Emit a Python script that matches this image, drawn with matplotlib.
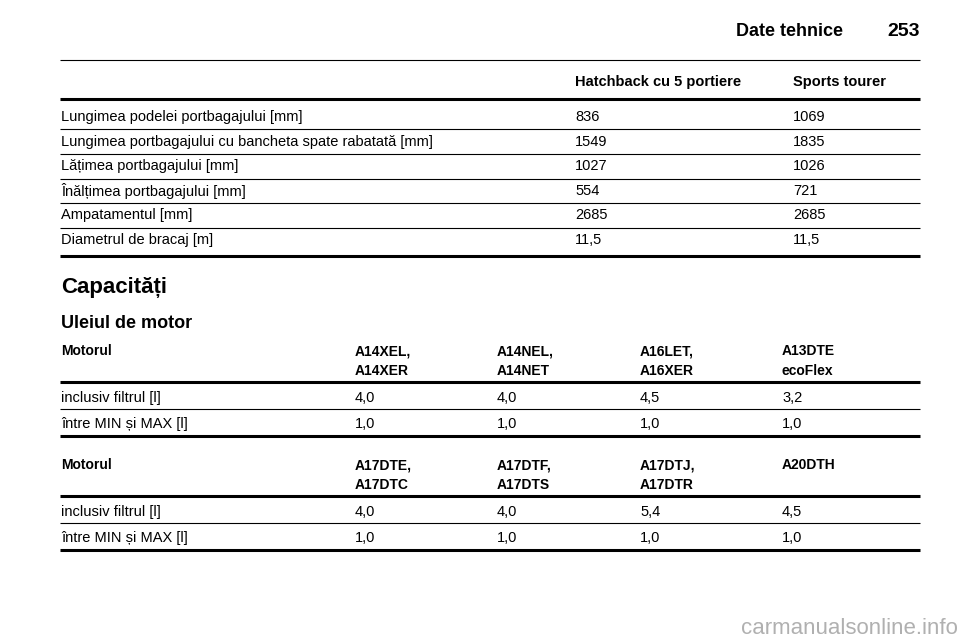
import matplotlib.pyplot as plt

plt.rcParams['font.family'] = ['Liberation Sans', 'DejaVu Sans']

page_title = "Date tehnice"
page_no = "253"

dim_cols = ["Hatchback cu 5 portiere", "Sports tourer"]
dim_labels = ["Lungimea podelei portbagajului [mm]",
              "Lungimea portbagajului cu bancheta spate rabatată [mm]",
              "Lățimea portbagajului [mm]",
              "Înălțimea portbagajului [mm]",
              "Ampatamentul [mm]",
              "Diametrul de bracaj [m]"]
dim_hatch = ["836", "1549", "1027", "554", "2685", "11,5"]
dim_tourer = ["1069", "1835", "1026", "721", "2685", "11,5"]

oil_rows = ["inclusiv filtrul [l]", "între MIN și MAX [l]"]
engines1 = [("A14XEL,", "A14XER"), ("A14NEL,", "A14NET"), ("A16LET,", "A16XER"), ("A13DTE", "ecoFlex")]
oil1 = [["4,0", "4,0", "4,5", "3,2"], ["1,0", "1,0", "1,0", "1,0"]]
engines2 = [("A17DTE,", "A17DTC"), ("A17DTF,", "A17DTS"), ("A17DTJ,", "A17DTR"), ("A20DTH", "")]
oil2 = [["4,0", "4,0", "5,4", "4,5"], ["1,0", "1,0", "1,0", "1,0"]]

fig = plt.figure(figsize=(9.6, 6.42), dpi=100)
ax = fig.add_axes([0, 0, 1, 1])
ax.set_xlim(0, 960)
ax.set_ylim(642, 0)
ax.axis('off')

fs = 10.5
L, R = 60, 920

def hline(y, w):
    ax.plot([L, R], [y, y], color='black', lw=w, solid_capstyle='butt')

# page header
ax.text(843, 32, page_title, ha='right', va='center', fontsize=13, fontweight='bold')
ax.text(920, 32, page_no, ha='right', va='center', fontsize=14, fontweight='bold')
hline(60, 0.8)

# dimensions table
cx = [575, 793]
for x, c in zip(cx, dim_cols):
    ax.text(x, 82, c, va='center', fontsize=fs, fontweight='bold')
hline(99, 2.2)
y0, dy = 117, 24.6
for i, lab in enumerate(dim_labels):
    y = y0 + i * dy
    ax.text(61, y, lab, va='center', fontsize=fs)
    ax.text(cx[0], y, dim_hatch[i], va='center', fontsize=fs)
    ax.text(cx[1], y, dim_tourer[i], va='center', fontsize=fs)
    if i < len(dim_labels) - 1:
        hline(y + 12.3, 0.8)
hline(256, 2.2)

ax.text(61, 287, "Capacități", va='center', fontsize=16, fontweight='bold')
ax.text(61, 323, "Uleiul de motor", va='center', fontsize=13, fontweight='bold')

ex = [355, 497, 640, 782]

def oil_table(top, engines, vals):
    ax.text(61, top, "Motorul", va='center', fontsize=10, fontweight='bold')
    for x, (a, b) in zip(ex, engines):
        ax.text(x, top, a, va='center', fontsize=10, fontweight='bold')
        ax.text(x, top + 20, b, va='center', fontsize=10, fontweight='bold')
    hline(top + 31, 2.2)
    for r, lab in enumerate(oil_rows):
        y = top + 47 + r * 26
        ax.text(61, y, lab, va='center', fontsize=fs)
        for x, v in zip(ex, vals[r]):
            ax.text(x, y, v, va='center', fontsize=fs)
    hline(top + 58, 0.8)
    hline(top + 85, 2.2)

oil_table(351, engines1, oil1)
oil_table(465, engines2, oil2)

ax.text(958, 628, "carmanualsonline.info", ha='right', va='center', fontsize=16, color='#b0b0b0')

fig.savefig("out.png", dpi=100)
